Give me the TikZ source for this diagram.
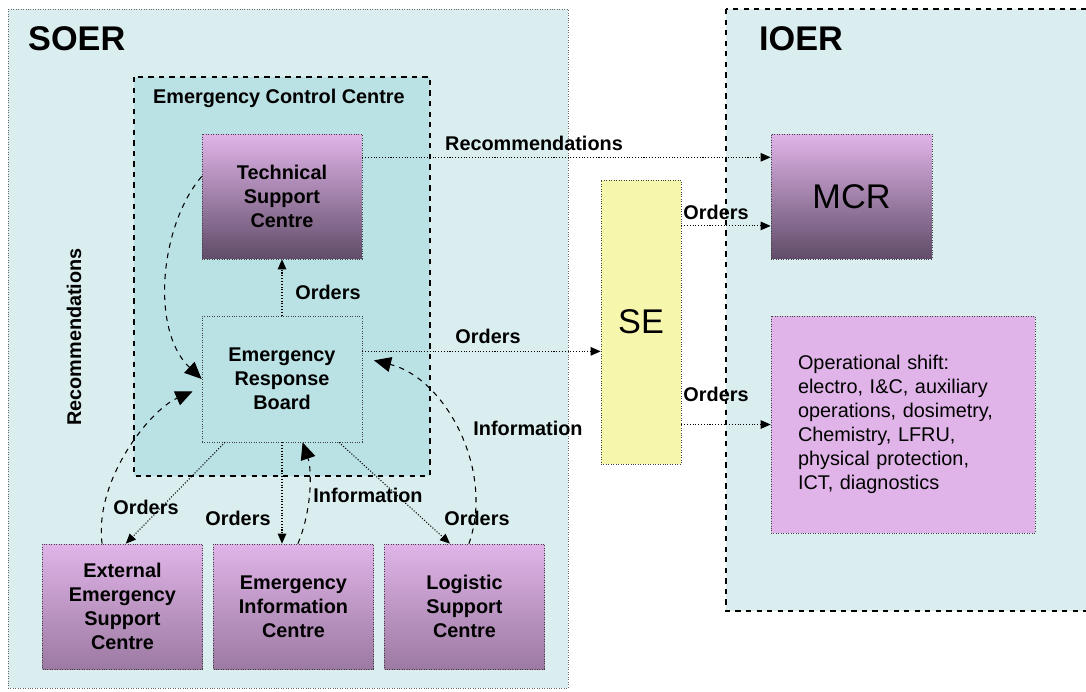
\documentclass[tikz,border=0pt]{standalone}
\usepackage{fontspec}
\setmainfont{Liberation Sans}
\usetikzlibrary{arrows.meta}
\definecolor{zonefill}{RGB}{219,238,239}
\definecolor{eccfill}{RGB}{186,225,228}
\definecolor{mauvetop}{RGB}{224,180,232}
\definecolor{mauvedark}{RGB}{96,76,104}
\definecolor{mauvemid}{RGB}{156,122,162}
\definecolor{sefill}{RGB}{246,246,172}

\begin{document}
\begin{tikzpicture}[x=0.02cm,y=-0.02cm,
    lab/.style={font=\fontsize{11.3}{13.6}\selectfont\bfseries},
    big/.style={font=\fontsize{19.5}{23}\selectfont},
    unit/.style={draw=black!75,densely dotted,align=center,inner sep=0pt,
      minimum width=3.2cm,minimum height=2.5cm,font=\fontsize{11.3}{13.6}\selectfont\bfseries},
    darkunit/.style={unit,top color=mauvetop,bottom color=mauvedark},
    lowunit/.style={unit,top color=mauvetop,bottom color=mauvemid},
    flow/.style={densely dotted,line width=0.6pt,-{Triangle[length=0.2cm,width=0.17cm]}},
    feed/.style={dashed,line width=0.6pt,-{Triangle[length=0.34cm,width=0.3cm]}}]
    %initialisation
    \useasboundingbox (0,0) rectangle (1086,691);
    \fill[white] (0,0) rectangle (1086,691);
    %zones
    \draw[densely dotted,draw=black!60,fill=zonefill] (8,9) rectangle (568,688);
    \draw[dashed,line width=0.6pt,fill=zonefill] (726,9) rectangle (1100,611);
    \draw[dashed,line width=0.6pt,fill=eccfill] (134,77) rectangle (430,476);
    %definitions
    \node[darkunit] (tsc) at (282,196.5) {Technical\\Support\\Centre};
    \node[unit,fill=eccfill,minimum height=2.52cm] (erb) at (282,379) {Emergency\\Response\\Board};
    \node[lowunit] (eesc) at (122.5,606.5) {External\\Emergency\\Support\\Centre};
    \node[lowunit] (eic) at (293.5,606.5) {Emergency\\Information\\Centre};
    \node[lowunit] (lsc) at (464.5,606.5) {Logistic\\Support\\Centre};
    \node[unit,fill=sefill,minimum width=1.6cm,minimum height=5.68cm,big] (se) at (641,322) {SE};
    \node[darkunit,big,minimum width=3.22cm] (mcr) at (851.5,196.5) {MCR};
    \node[unit,fill=mauvetop,minimum width=5.28cm,minimum height=4.34cm,text width=4.2cm,
      align=left,font=\fontsize{11.3}{13.6}\selectfont] (ops) at (903,424.5)
      {Operational shift:\\electro, I\&C, auxiliary\\operations, dosimetry,\\Chemistry, LFRU,\\physical protection,\\ICT, diagnostics};
    %drawing
    \draw[flow] (erb.north) -- (tsc.south);
    \draw[flow] (erb.228) -- (eesc.87);
    \draw[flow] (erb.south) -- (erb.south |- eic.north);
    \draw[flow] (erb.312) -- (lsc.103);
    \draw[flow] (erb.19) -- (erb.19 -| se.west);
    \draw[flow] (tsc.26) -- (tsc.26 -| mcr.west);
    \draw[flow] (se.east |- mcr.200) -- (mcr.200);
    \draw[flow] (se.east |- ops.west) -- (ops.west);
    \draw[feed] (tsc.166) .. controls (160,225) and (150,330) .. (erb.west);
    \draw[feed,shorten >=0.2cm] (eesc.108) .. controls (94,480) and (150,410) .. (erb.186);
    \draw[feed] (eic.86) .. controls (312,510) and (312,470) .. (erb.288);
    \draw[feed,shorten >=0.24cm] (lsc.86) .. controls (495,470) and (445,378) .. (erb.15);
    %label
    \node[big,font=\fontsize{19.5}{23}\selectfont\bfseries,anchor=west] (soer) at (22,39) {SOER};
    \node[big,font=\fontsize{19.5}{23}\selectfont\bfseries,anchor=west] (ioer) at (753,39) {IOER};
    \node[lab,anchor=west] (ecc) at (147,98) {Emergency Control Centre};
    \node[lab] (o1) at (328,292) {Orders};
    \node[lab] (o2) at (488,336) {Orders};
    \node[lab] (o3) at (146,507) {Orders};
    \node[lab] (o4) at (238,518) {Orders};
    \node[lab] (o5) at (477,518) {Orders};
    \node[lab] (o6) at (716,212) {Orders};
    \node[lab] (o7) at (716,394) {Orders};
    \node[lab] (i1) at (368,495) {Information};
    \node[lab] (i2) at (528,428) {Information};
    \node[lab] (r1) at (534,143) {Recommendations};
    \node[lab,rotate=90] (r2) at (74,337) {Recommendations};
\end{tikzpicture}
\end{document}
